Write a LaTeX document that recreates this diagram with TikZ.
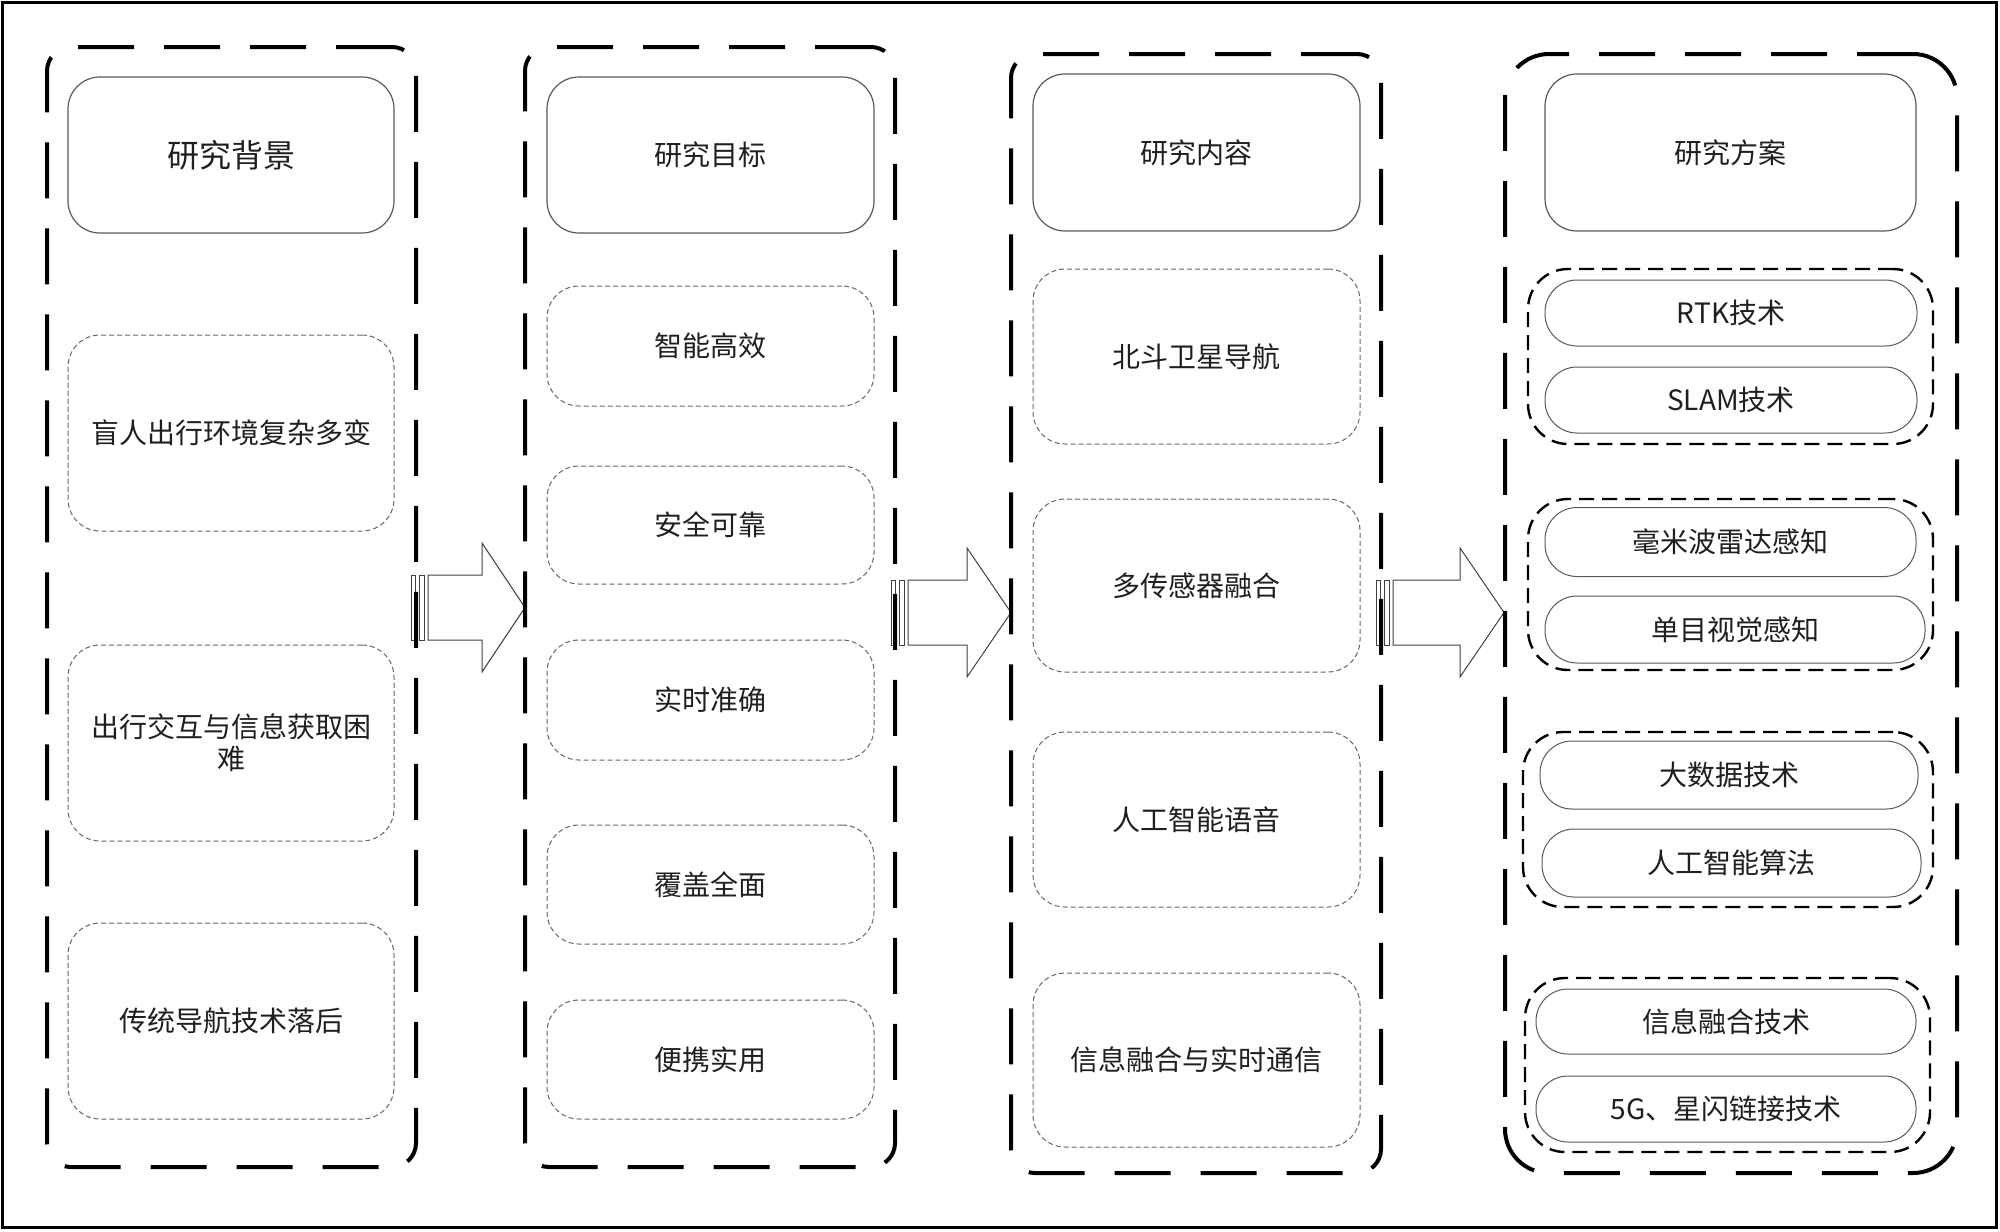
\documentclass[tikz,border=0pt]{standalone}
\usepackage{fontspec}
\setmainfont{Noto Sans CJK SC}
\newcommand\stripearrow[4]{%
  \draw[arrowshape] (#1,#4-32.5) rectangle (#1+4,#4+32.5);
  \draw[arrowshape] (#1+8,#4-32.5) rectangle (#1+13,#4+32.5);
  \draw[arrowshape] (#1+17,#4-32.5) -- (#2,#4-32.5) -- (#2,#4-64.5) -- (#3,#4)
     -- (#2,#4+64.5) -- (#2,#4+32.5) -- (#1+17,#4+32.5) -- cycle;
}
\begin{document}
\begin{tikzpicture}[x=0.5pt,y=-0.5pt,
  txt/.style={text=black!88, font=\fontsize{14pt}{16pt}\selectfont, align=center, inner sep=0pt},
  bigbox/.style={draw=black, line width=2pt, dash pattern=on 28pt off 15pt, rounded corners=12pt, inner sep=0pt},
  hdr/.style={txt, draw=black!65, line width=0.6pt, rounded corners=16pt},
  itembox/.style={txt, draw=black!60, line width=0.5pt, dash pattern=on 2.5pt off 1.5pt, rounded corners=16pt},
  grp/.style={draw=black, line width=1.2pt, dash pattern=on 7.5pt off 4pt, rounded corners=20pt, inner sep=0pt},
  pill/.style={txt, draw=black!65, line width=0.5pt, rounded corners=16pt},
  arrowshape/.style={draw=black!75, line width=0.5pt, fill=white}
]
\useasboundingbox (0,0) rectangle (2000,1231);
\draw[line width=1.5pt] (2.5,2.5) rectangle (1996.5,1227.5);

% arrows between columns
\stripearrow{411}{482}{525}{607.5}
\stripearrow{891}{967}{1011}{612.5}
\stripearrow{1376}{1460}{1504}{612.5}

% columns
\node[bigbox, minimum width=184.5pt, minimum height=560pt] (col1) at (231.5,607) {};
\node[bigbox, minimum width=185pt, minimum height=560pt] (col2) at (710,607) {};
\node[bigbox, minimum width=185pt, minimum height=559.5pt] (col3) at (1196,613.5) {};
\node[bigbox, rounded corners=22pt, minimum width=226pt, minimum height=559.5pt] (col4) at (1731,613.5) {};

% headers
\node[hdr, font=\fontsize{16pt}{18pt}\selectfont, minimum width=163pt, minimum height=78pt] (h1) at (231,155) {研究背景};
\node[hdr, minimum width=163.5pt, minimum height=78pt] (h2) at (710.5,155) {研究目标};
\node[hdr, minimum width=163.5pt, minimum height=78.5pt] (h3) at (1196.5,152.5) {研究内容};
\node[hdr, minimum width=185.5pt, minimum height=78.5pt] (h4) at (1730.5,152.5) {研究方案};

% column 1
\node[itembox, minimum width=163pt, minimum height=98pt] (a1) at (231,433) {盲人出行环境复杂多变};
\node[itembox, minimum width=163pt, minimum height=98pt] (a2) at (231,743) {出行交互与信息获取困\\难};
\node[itembox, minimum width=163pt, minimum height=98pt] (a3) at (231,1021) {传统导航技术落后};

% column 2
\node[itembox, minimum width=163.5pt, minimum height=60pt] (b1) at (710.5,346) {智能高效};
\node[itembox, minimum width=163.5pt, minimum height=59pt] (b2) at (710.5,525) {安全可靠};
\node[itembox, minimum width=163.5pt, minimum height=60pt] (b3) at (710.5,700) {实时准确};
\node[itembox, minimum width=163.5pt, minimum height=59.5pt] (b4) at (710.5,884.5) {覆盖全面};
\node[itembox, minimum width=163.5pt, minimum height=59.5pt] (b5) at (710.5,1059.5) {便携实用};

% column 3
\node[itembox, minimum width=163.5pt, minimum height=87.5pt] (c1) at (1196.5,356.5) {北斗卫星导航};
\node[itembox, minimum width=163.5pt, minimum height=86.5pt] (c2) at (1196.5,585.5) {多传感器融合};
\node[itembox, minimum width=163.5pt, minimum height=87.5pt] (c3) at (1196.5,819.5) {人工智能语音};
\node[itembox, minimum width=163.5pt, minimum height=87pt] (c4) at (1196.5,1060) {信息融合与实时通信};

% column 4 groups
\node[grp, minimum width=202.5pt, minimum height=87.5pt] (g1) at (1730.5,356.5) {};
\node[grp, minimum width=202.5pt, minimum height=85.5pt] (g2) at (1730.5,584.5) {};
\node[grp, minimum width=205pt, minimum height=87.5pt] (g3) at (1728,819.5) {};
\node[grp, minimum width=202.5pt, minimum height=87pt] (g4) at (1727.5,1065) {};

% column 4 pills
\node[pill, minimum width=186pt, minimum height=33pt] (p1) at (1731,313) {RTK技术};
\node[pill, minimum width=186pt, minimum height=33pt] (p2) at (1731,400) {SLAM技术};
\node[pill, minimum width=185.5pt, minimum height=34.5pt] (p3) at (1730.5,542) {毫米波雷达感知};
\node[pill, minimum width=190pt, minimum height=33.5pt] (p4) at (1735,629.5) {单目视觉感知};
\node[pill, minimum width=189pt, minimum height=34pt] (p5) at (1729,775) {大数据技术};
\node[pill, minimum width=189.5pt, minimum height=34pt] (p6) at (1731.5,863) {人工智能算法};
\node[pill, minimum width=190pt, minimum height=32.5pt] (p7) at (1726,1021.5) {信息融合技术};
\node[pill, minimum width=190pt, minimum height=33pt] (p8) at (1726,1109) {5G、星闪链接技术};
\end{tikzpicture}
\end{document}
